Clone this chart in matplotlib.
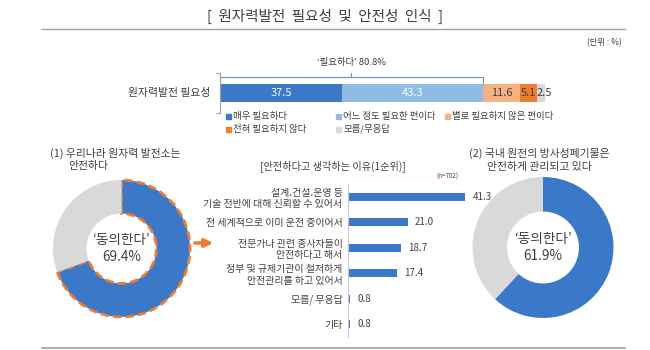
import numpy as np
import matplotlib
matplotlib.use("Agg")
import matplotlib.pyplot as plt
from matplotlib.patches import FancyArrowPatch
from matplotlib.lines import Line2D

plt.rcParams['font.family'] = ['Noto Sans CJK KR', 'DejaVu Sans']

# data
need_labels = ['매우 필요하다', '어느 정도 필요한 편이다', '별로 필요하지 않은 편이다',
               '전혀 필요하지 않다', '모름/무응답']
need_values = [37.5, 43.3, 11.6, 5.1, 2.5]
need_colors = ['#3C78C8', '#8FBBE4', '#F4B183', '#ED7D31', '#D9D9D9']

safe_agree = 69.4
waste_agree = 61.9

reason_labels = ['설계.건설.운영 등\n기술 전반에 대해 신뢰할 수 있어서',
                 '전 세계적으로 이미 운전 중이어서',
                 '전문가나 관련 종사자들이\n안전하다고 해서',
                 '정부 및 규제기관이 철저하게\n안전관리를 하고 있어서',
                 '모름/ 무응답',
                 '기타']
reason_values = [41.3, 21.0, 18.7, 17.4, 0.8, 0.8]

W, H = 650, 350
TXT = '#404040'
BLUE = '#3C78C8'
GRAY = '#D9D9D9'
ORANGE = '#ED7D31'


def box(l, t, r, b):
    return [l / W, 1 - b / H, (r - l) / W, (b - t) / H]


def fx(x):
    return x / W


def fy(y):
    return 1 - y / H


fig = plt.figure(figsize=(6.5, 3.5), dpi=100)

# title and rules
fig.text(0.5, fy(16), '[  원자력발전  필요성  및  안전성  인식  ]', ha='center', va='center',
         fontsize=10.5, color=TXT)
fig.add_artist(Line2D([fx(42), fx(625)], [fy(29), fy(29)], color='#a0a0a0', lw=1))
fig.add_artist(Line2D([fx(42), fx(625)], [fy(348), fy(348)], color='#a0a0a0', lw=1.2))
fig.text(fx(622), fy(43), '(단위 : %)', ha='right', va='center', fontsize=6, color=TXT)

# stacked bar
ax = fig.add_axes(box(220, 73, 545, 113))
left = 0
for v, c in zip(need_values, need_colors):
    ax.barh(0, v, left=left, height=0.9, color=c)
    left += v
cum = np.cumsum([0] + need_values)
for i, v in enumerate(need_values):
    mid = cum[i] + v / 2
    col = 'white' if i < 2 else TXT
    if i == 4:
        ax.text(cum[i], 0, f'{v}', ha='left', va='center', fontsize=8, color=TXT)
    else:
        ax.text(mid, 0, f'{v}', ha='center', va='center', fontsize=8, color=col)
ax.set_xlim(0, 100)
ax.set_ylim(-1, 1)
ax.set_xticks([])
ax.set_yticks([-1, 1])
ax.set_yticklabels([])
ax.tick_params(axis='y', length=3, color='#a0a0a0', direction='out')
for s in ['top', 'right', 'bottom']:
    ax.spines[s].set_visible(False)
ax.spines['left'].set_color('#a0a0a0')
ax.patch.set_alpha(0)
ax.text(-3, 0, '원자력발전 필요성', ha='right', va='center', fontsize=7.8, color=TXT)
need_sum = need_values[0] + need_values[1]
bc = '#6a94cf'
ax.plot([0, 0, need_sum, need_sum], [0.5, 0.8, 0.8, 0.5], color=bc, lw=0.8, clip_on=False)
ax.plot([need_sum / 2, need_sum / 2], [0.8, 1.0], color=bc, lw=0.8, clip_on=False)
ax.text(need_sum / 2, 1.3, f'‘필요하다’ {need_sum:.1f}%', ha='center', va='bottom',
        fontsize=6.8, color=TXT, clip_on=False)

# legend, row-wise like the original
leg_x = [228, 338, 447, 228, 338]
leg_y = [116, 116, 116, 129, 129]
for lx, ly, lab, c in zip(leg_x, leg_y, need_labels, need_colors):
    fig.add_artist(Line2D([fx(lx)], [fy(ly)], marker='s', markersize=3.6, color=c, lw=0))
    fig.text(fx(lx + 5), fy(ly), lab, ha='left', va='center', fontsize=6.8, color=TXT)


def donut(l, t, r, b, val, dashed):
    a = fig.add_axes(box(l, t, r, b))
    wedges, _ = a.pie([val, 100 - val], colors=[BLUE, GRAY], startangle=90,
                      counterclock=False, radius=1, wedgeprops=dict(width=0.49))
    if dashed:
        wedges[0].set_edgecolor(ORANGE)
        wedges[0].set_linestyle((0, (3, 1.5)))
        wedges[0].set_linewidth(2)
        wedges[0].set_clip_on(False)
    a.set_xlim(-1, 1)
    a.set_ylim(-1, 1)
    a.text(0, 0, f'‘동의한다’\n{val}%', ha='center', va='center', fontsize=9.8,
           color=TXT, linespacing=1.2)
    return a


donut(53, 180, 190, 317, safe_agree, True)
fig.text(fx(50), fy(153), '(1) 우리나라 원자력 발전소는', ha='left', va='center',
         fontsize=7.8, color=TXT)
fig.text(fx(68), fy(166), '안전하다', ha='left', va='center', fontsize=7.8, color=TXT)

donut(472, 177, 614, 318, waste_agree, False)
fig.text(fx(539), fy(160), '(2) 국내 원전의 방사성폐기물은\n안전하게 관리되고 있다',
         ha='center', va='center', fontsize=7.8, color=TXT, linespacing=1.3)

# arrow
fig.add_artist(FancyArrowPatch((fx(192), fy(243)), (fx(216), fy(243)),
               transform=fig.transFigure, arrowstyle='-|>', mutation_scale=12,
               color=ORANGE, lw=2.5))

# reasons bar chart
bx = fig.add_axes(box(348, 184, 490, 337))
y = np.arange(len(reason_values))
bx.barh(y, reason_values, height=0.33, color=BLUE)
for yi, v in zip(y, reason_values):
    bx.text(v + 2.5, yi, f'{v:.1f}', ha='left', va='center', fontsize=7, color=TXT)
bx.set_ylim(len(y) - 0.5, -0.5)
bx.set_xlim(0, 50)
bx.set_yticks(y)
bx.set_yticklabels(reason_labels, fontsize=7.2, color=TXT, linespacing=1.2)
bx.tick_params(axis='y', length=0, pad=4)
bx.set_xticks([])
for s in ['top', 'right', 'bottom']:
    bx.spines[s].set_visible(False)
bx.spines['left'].set_color('#c8c8c8')
bx.patch.set_alpha(0)
fig.text(fx(333), fy(166), '[안전하다고 생각하는 이유(1순위)]', ha='center', va='center',
         fontsize=7.3, color=TXT)
fig.text(fx(447), fy(177), '(n=702)', ha='center', va='center', fontsize=4.5, color=TXT)

fig.savefig('out.png', dpi=100)
